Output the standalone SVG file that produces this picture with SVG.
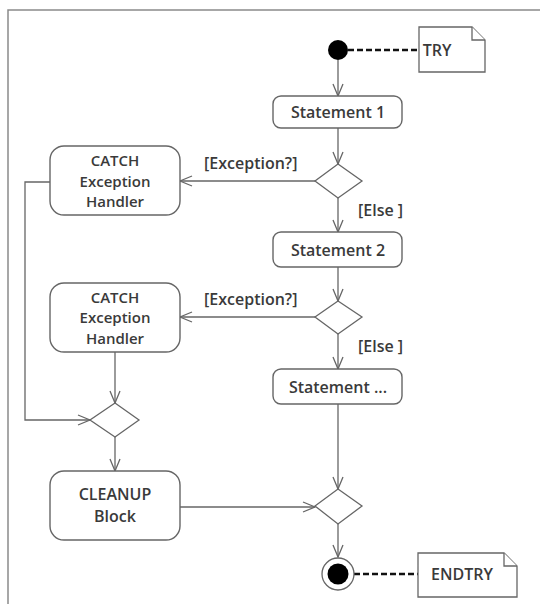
<svg xmlns="http://www.w3.org/2000/svg" width="540" height="604" viewBox="0 0 540 604">
  <defs>
    <style>
      .frame { fill: none; stroke: #8a8a8a; stroke-width: 1.5; }
      .box { fill: #ffffff; stroke: #666666; stroke-width: 1.4; }
      .dia { fill: #ffffff; stroke: #666666; stroke-width: 1.3; }
      .edge { fill: none; stroke: #666666; stroke-width: 1.3; }
      .dash { fill: none; stroke: #111111; stroke-width: 2.6; stroke-dasharray: 6 3; }
      .note { fill: #ffffff; stroke: #666666; stroke-width: 1.3; }
      text { font-family: "Open Sans", "Liberation Sans", sans-serif; font-weight: 600; font-size: 16px; fill: #3a3a3a; text-anchor: middle; }
      .ml { font-size: 15px; }
      .lbl { text-anchor: start; }
    </style>
    <marker id="arr" viewBox="0 0 14 12" refX="13" refY="6" markerWidth="14" markerHeight="12" markerUnits="userSpaceOnUse" orient="auto">
      <path d="M1,1 L13,6 L1,11" fill="none" stroke="#666666" stroke-width="1.3"/>
    </marker>
  </defs>

  <!-- enclosing frame -->
  <path class="frame" d="M8,604 L8,10 L540,10"/>

  <!-- connectors -->
  <g id="connectors">
    <line class="dash" x1="348" y1="50" x2="420" y2="50"/>
    <line class="dash" x1="354" y1="574" x2="418" y2="574"/>
    <line class="edge" x1="338" y1="60" x2="338" y2="96" marker-end="url(#arr)"/>
    <line class="edge" x1="338" y1="128" x2="338" y2="164" marker-end="url(#arr)"/>
    <line class="edge" x1="315" y1="181" x2="180" y2="181" marker-end="url(#arr)"/>
    <line class="edge" x1="338" y1="198" x2="338" y2="232" marker-end="url(#arr)"/>
    <line class="edge" x1="338" y1="267" x2="338" y2="301" marker-end="url(#arr)"/>
    <line class="edge" x1="315" y1="317" x2="180" y2="317" marker-end="url(#arr)"/>
    <line class="edge" x1="338" y1="334" x2="338" y2="369" marker-end="url(#arr)"/>
    <path class="edge" d="M50,182 L25,182 L25,420 L90,420" marker-end="url(#arr)"/>
    <line class="edge" x1="115" y1="352" x2="115" y2="403" marker-end="url(#arr)"/>
    <line class="edge" x1="115" y1="437" x2="115" y2="471" marker-end="url(#arr)"/>
    <line class="edge" x1="180" y1="507" x2="315" y2="507" marker-end="url(#arr)"/>
    <line class="edge" x1="338" y1="404" x2="338" y2="489" marker-end="url(#arr)"/>
    <line class="edge" x1="338" y1="524" x2="338" y2="557" marker-end="url(#arr)"/>
    <text class="lbl" x="204" y="169">[Exception?]</text>
    <text class="lbl" x="358" y="216">[Else ]</text>
    <text class="lbl" x="204" y="305">[Exception?]</text>
    <text class="lbl" x="358" y="352">[Else ]</text>
  </g>

  <g id="start">
    <circle cx="338" cy="50" r="10" fill="#000000"/>
  </g>

  <g id="note-try">
    <path class="note" d="M419,27 L472,27 L485,40 L485,72 L419,72 Z"/>
    <path class="note" d="M472,27 L472,40 L485,40"/>
    <text x="437" y="56">TRY</text>
  </g>

  <g id="statement-1">
    <rect class="box" x="273" y="96" width="129" height="32" rx="8"/>
    <text x="338" y="118">Statement 1</text>
  </g>

  <g id="decision-1">
    <polygon class="dia" points="338,164 362,181 338,198 315,181"/>
  </g>

  <g id="catch-1">
    <rect class="box" x="50" y="146" width="130" height="69" rx="14"/>
    <text class="ml" x="115" y="166">CATCH</text>
    <text class="ml" x="115" y="186.5">Exception</text>
    <text class="ml" x="115" y="207">Handler</text>
  </g>

  <g id="statement-2">
    <rect class="box" x="273" y="232" width="129" height="35" rx="8"/>
    <text x="338" y="256">Statement 2</text>
  </g>

  <g id="decision-2">
    <polygon class="dia" points="338,301 362,317 338,334 315,317"/>
  </g>

  <g id="catch-2">
    <rect class="box" x="50" y="283" width="130" height="69" rx="14"/>
    <text class="ml" x="115" y="302.5">CATCH</text>
    <text class="ml" x="115" y="323">Exception</text>
    <text class="ml" x="115" y="343.5">Handler</text>
  </g>

  <g id="statement-n">
    <rect class="box" x="273" y="369" width="129" height="35" rx="8"/>
    <text x="338" y="393">Statement ...</text>
  </g>

  <g id="merge-catch">
    <polygon class="dia" points="115,403 139,420 115,437 90,420"/>
  </g>

  <g id="cleanup">
    <rect class="box" x="50" y="471" width="130" height="69" rx="14"/>
    <text x="115" y="500">CLEANUP</text>
    <text x="115" y="522">Block</text>
  </g>

  <g id="merge-end">
    <polygon class="dia" points="338,489 362,506 338,524 315,506"/>
  </g>

  <g id="final">
    <circle cx="338" cy="574" r="16" fill="#ffffff" stroke="#666666" stroke-width="1.3"/>
    <circle cx="338" cy="574" r="10.5" fill="#000000"/>
  </g>

  <g id="note-endtry">
    <path class="note" d="M418,553 L504,553 L517,566 L517,597 L418,597 Z"/>
    <path class="note" d="M504,553 L504,566 L517,566"/>
    <text x="462" y="580">ENDTRY</text>
  </g>
</svg>
